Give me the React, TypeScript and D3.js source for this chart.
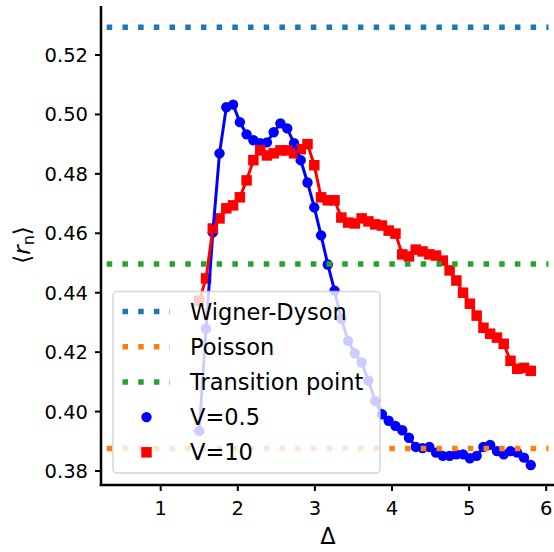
import React from "react";
import * as d3 from "d3";

const deltaValues = [1.5, 1.588, 1.676, 1.763, 1.851, 1.939, 2.027, 2.114, 2.202, 2.29, 2.378, 2.465, 2.553, 2.641, 2.729, 2.816, 2.904, 2.992, 3.08, 3.167, 3.255, 3.343, 3.431, 3.518, 3.606, 3.694, 3.782, 3.869, 3.957, 4.045, 4.133, 4.22, 4.308, 4.396, 4.484, 4.571, 4.659, 4.747, 4.835, 4.922, 5.01, 5.098, 5.186, 5.273, 5.361, 5.449, 5.537, 5.624, 5.712, 5.8];

const v05Values = [0.3935, 0.4279, 0.4603, 0.4869, 0.5024, 0.5033, 0.4974, 0.4933, 0.4913, 0.4903, 0.4906, 0.494, 0.497, 0.4953, 0.4903, 0.4846, 0.4771, 0.4687, 0.4593, 0.4495, 0.4407, 0.4312, 0.4238, 0.4196, 0.4165, 0.4104, 0.4036, 0.3991, 0.3969, 0.3952, 0.3937, 0.3912, 0.3881, 0.3877, 0.3881, 0.3862, 0.3851, 0.3851, 0.3856, 0.3856, 0.3843, 0.3851, 0.3881, 0.3888, 0.3867, 0.3856, 0.3867, 0.3862, 0.3845, 0.382];

const v10Values = [0.4373, 0.4448, 0.4616, 0.465, 0.4684, 0.4694, 0.4721, 0.4778, 0.4846, 0.4879, 0.4862, 0.4869, 0.4879, 0.4879, 0.4869, 0.4883, 0.49, 0.4829, 0.4721, 0.4711, 0.4711, 0.4653, 0.4636, 0.4633, 0.465, 0.464, 0.463, 0.4626, 0.4609, 0.4599, 0.4529, 0.4522, 0.4545, 0.4539, 0.4529, 0.4525, 0.4508, 0.4475, 0.4441, 0.44, 0.4363, 0.4323, 0.4282, 0.4262, 0.4249, 0.4228, 0.4171, 0.4144, 0.4147, 0.4137];

const refLabels = ["Wigner-Dyson", "Poisson", "Transition point"];
const refValues = [0.5293, 0.3876, 0.4497];
const refColors = ["#1f77b4", "#ff7f0e", "#2ca02c"];
const refSpan = [0.3, 6.03];

const xTicks = [1, 2, 3, 4, 5, 6];
const yTicks = [0.38, 0.4, 0.42, 0.44, 0.46, 0.48, 0.5, 0.52];

const W = 554;
const H = 552;
const left = 101;
const top = 6;
const bottom = 485;
const FONT = "DejaVu Sans, Verdana, sans-serif";

export default function App() {
  const x = d3.scaleLinear().domain([1, 6]).range([160.7, 546.2]);
  const y = d3.scaleLinear().domain([0.38, 0.52]).range([471, 55]);

  const line = d3
    .line<number>()
    .x((_, i) => x(deltaValues[i]))
    .y((d) => y(d));

  const dotted = "5.5 10.2";
  const sq = 10.5;
  const cr = 5.2;

  const legendRows = [0, 1, 2, 3, 4].map((i) => 311.5 + i * 35.2);

  return (
    <svg
      width={W}
      height={H}
      style={{ position: "absolute", left: 0, top: 0, background: "#fff" }}
      fontFamily={FONT}
    >
      <rect x={0} y={0} width={W} height={H} fill="#fff" />
      {v05Values.map((v, i) => (
        <circle key={"b" + i} cx={x(deltaValues[i])} cy={y(v)} r={cr} fill="#0000ff" />
      ))}
      {v10Values.map((v, i) => (
        <rect
          key={"r" + i}
          x={x(deltaValues[i]) - sq / 2}
          y={y(v) - sq / 2}
          width={sq}
          height={sq}
          fill="#ff0000"
        />
      ))}
      <path d={line(v05Values) || ""} fill="none" stroke="#0000ff" strokeWidth={3} />
      <path d={line(v10Values) || ""} fill="none" stroke="#ff0000" strokeWidth={3} />
      {refValues.map((v, i) => (
        <line
          key={"h" + i}
          x1={x(refSpan[0])}
          x2={x(refSpan[1])}
          y1={y(v)}
          y2={y(v)}
          stroke={refColors[i]}
          strokeWidth={5.5}
          strokeDasharray={dotted}
        />
      ))}
      <line x1={left} x2={left} y1={top} y2={bottom + 1} stroke="#000" strokeWidth={2.5} />
      <line x1={left - 1.25} x2={W} y1={bottom} y2={bottom} stroke="#000" strokeWidth={2.5} />
      {xTicks.map((t) => (
        <g key={"xt" + t}>
          <line x1={x(t)} x2={x(t)} y1={bottom} y2={bottom + 6} stroke="#000" strokeWidth={2} />
          <text x={x(t)} y={bottom + 30} fontSize={19.5} textAnchor="middle" fill="#000">
            {t}
          </text>
        </g>
      ))}
      {yTicks.map((t) => (
        <g key={"yt" + t}>
          <line x1={left - 6} x2={left} y1={y(t)} y2={y(t)} stroke="#000" strokeWidth={2} />
          <text x={left - 13} y={y(t) + 7} fontSize={19.5} textAnchor="end" fill="#000">
            {d3.format(".2f")(t)}
          </text>
        </g>
      ))}
      <text x={328} y={544} fontSize={22.5} textAnchor="middle" fill="#000">
        Δ
      </text>
      <text
        transform={`translate(30,245) rotate(-90)`}
        fontSize={23}
        textAnchor="middle"
        fill="#000"
      >
        ⟨<tspan fontStyle="italic">r</tspan>
        <tspan fontSize={16} dy={4}>n</tspan>
        <tspan dy={-4}>⟩</tspan>
      </text>
      <rect
        x={113}
        y={291.5}
        width={267}
        height={181.5}
        rx={4}
        ry={4}
        fill="#fff"
        fillOpacity={0.8}
        stroke="#cccccc"
        strokeOpacity={0.8}
        strokeWidth={1.5}
      />
      {refLabels.map((lab, i) => (
        <g key={"lg" + i}>
          <line
            x1={122.5}
            x2={170}
            y1={legendRows[i]}
            y2={legendRows[i]}
            stroke={refColors[i]}
            strokeWidth={5.5}
            strokeDasharray={dotted}
          />
          <text x={190} y={legendRows[i] + 8} fontSize={22.5} fill="#000">
            {lab}
          </text>
        </g>
      ))}
      <circle cx={146.5} cy={legendRows[3]} r={cr} fill="#0000ff" />
      <text x={190} y={legendRows[3] + 8} fontSize={22.5} fill="#000">
        V=0.5
      </text>
      <rect
        x={146.5 - sq / 2}
        y={legendRows[4] - sq / 2}
        width={sq}
        height={sq}
        fill="#ff0000"
      />
      <text x={190} y={legendRows[4] + 8} fontSize={22.5} fill="#000">
        V=10
      </text>
    </svg>
  );
}
